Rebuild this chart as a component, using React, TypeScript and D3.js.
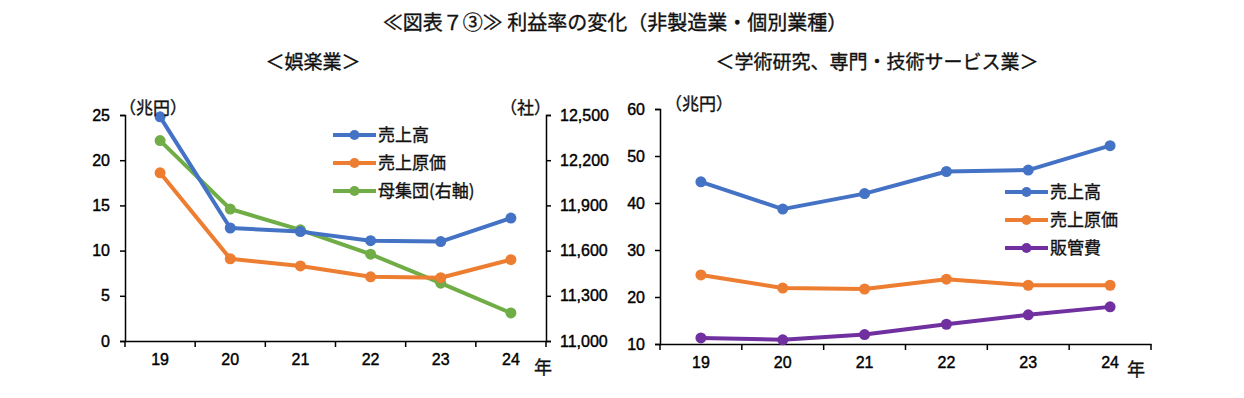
import * as d3 from 'd3';
import { useEffect, useRef } from 'react';

const years = ['19', '20', '21', '22', '23', '24'];

// 娯楽業 (兆円 / 社)
const goraku_uriage = [24.8, 12.5, 12.1, 11.1, 11.0, 13.6];
const goraku_genka = [18.6, 9.1, 8.3, 7.1, 7.0, 9.0];
const goraku_bosyudan = [12330, 11876, 11738, 11576, 11384, 11186];
const gorakuLeftTicks = [0, 5, 10, 15, 20, 25];
const gorakuRightTicks = [11000, 11300, 11600, 11900, 12200, 12500];

// 学術研究、専門・技術サービス業 (兆円)
const gakujutsu_uriage = [44.5, 38.7, 42.0, 46.7, 47.0, 52.2];
const gakujutsu_genka = [24.7, 21.9, 21.7, 23.8, 22.5, 22.5];
const gakujutsu_hankan = [11.3, 10.9, 12.0, 14.2, 16.2, 17.9];
const gakujutsuTicks = [10, 20, 30, 40, 50, 60];

const BLUE = '#4472c4';
const ORANGE = '#ed7d31';
const GREEN = '#70ad47';
const PURPLE = '#7030a0';
const JP = '"Noto Sans CJK JP", sans-serif';
const NUM = '"Liberation Sans", Arial, sans-serif';

function App() {
  const svgRef = useRef(null);

  useEffect(() => {
    document.body.style.margin = '0';
    const svg = d3.select(svgRef.current);
    svg.selectAll('*').remove();

    const jpText = (g, x, y, txt, size, anchor = 'start') =>
      g.append('text').attr('x', x).attr('y', y).attr('text-anchor', anchor)
        .style('font-family', JP).style('font-size', size + 'px').attr('fill', '#111')
        .attr('stroke', '#111').attr('stroke-width', 0.35).text(txt);

    jpText(svg, 615, 30, '≪図表７③≫ 利益率の変化（非製造業・個別業種）', 20, 'middle');
    jpText(svg, 313, 69, '＜娯楽業＞', 19, 'middle');
    jpText(svg, 877, 69, '＜学術研究、専門・技術サービス業＞', 19, 'middle');

    const drawSeries = (g, x, y, vals, color) => {
      const cx = (d, i) => x(years[i]) + x.bandwidth() / 2;
      const line = d3.line().x(cx).y(d => y(d));
      g.append('path').datum(vals).attr('fill', 'none').attr('stroke', color)
        .attr('stroke-width', 4).attr('stroke-linejoin', 'round').attr('d', line);
      g.selectAll(null).data(vals).enter().append('circle')
        .attr('cx', cx).attr('cy', d => y(d)).attr('r', 5.5).attr('fill', color);
    };

    const styleAxis = (ag) => {
      ag.selectAll('path,line').attr('stroke', '#000').attr('stroke-width', 1.5);
      ag.selectAll('text').style('font-family', NUM).style('font-size', '16px')
        .attr('fill', '#000').attr('stroke', '#000').attr('stroke-width', 0.4);
    };

    const bottomAxis = (g, x, y0, pad) => {
      const ax = g.append('g').attr('transform', `translate(0,${y0})`)
        .call(d3.axisBottom(x).tickSize(0).tickPadding(pad));
      ax.selectAll('.tick text').attr('dy', '0.71em');
      ax.selectAll(null).data(d3.range(years.length + 1)).enter().append('line')
        .attr('x1', i => x.range()[0] + i * x.step()).attr('x2', i => x.range()[0] + i * x.step())
        .attr('y1', 0).attr('y2', 6);
      styleAxis(ax);
    };

    const legend = (g, x0, y0, items) => {
      items.forEach((it, i) => {
        const yy = y0 + i * 28;
        g.append('line').attr('x1', x0).attr('x2', x0 + 43).attr('y1', yy).attr('y2', yy)
          .attr('stroke', it.color).attr('stroke-width', 4);
        g.append('circle').attr('cx', x0 + 21.5).attr('cy', yy).attr('r', 5).attr('fill', it.color);
        jpText(g, x0 + 45, yy + 6, it.label, 17);
      });
    };

    // ---- left chart
    const L = { left: 125, right: 546, top: 115, bottom: 341 };
    const xL = d3.scaleBand().domain(years).range([L.left, L.right]);
    const yL = d3.scaleLinear().domain([0, 25]).range([L.bottom, L.top]);
    const yR = d3.scaleLinear().domain([11000, 12500]).range([L.bottom, L.top]);
    const gl = svg.append('g');

    bottomAxis(gl, xL, L.bottom, 13);
    styleAxis(gl.append('g').attr('transform', `translate(${L.left},0)`)
      .call(d3.axisLeft(yL).tickValues(gorakuLeftTicks).tickSizeOuter(0).tickSize(5).tickPadding(10)));
    styleAxis(gl.append('g').attr('transform', `translate(${L.right},0)`)
      .call(d3.axisRight(yR).tickValues(gorakuRightTicks).tickFormat(d3.format(',')).tickSizeOuter(0).tickSize(5).tickPadding(9)));

    drawSeries(gl, xL, yR, goraku_bosyudan, GREEN);
    drawSeries(gl, xL, yL, goraku_genka, ORANGE);
    drawSeries(gl, xL, yL, goraku_uriage, BLUE);

    jpText(gl, 119, 114, '（兆円）', 17);
    jpText(gl, 500, 114, '（社）', 17);
    jpText(gl, 534, 374, '年', 18);
    legend(gl, 333, 135, [
      { label: '売上高', color: BLUE },
      { label: '売上原価', color: ORANGE },
      { label: '母集団(右軸)', color: GREEN },
    ]);

    // ---- right chart
    const R = { left: 660, right: 1151, top: 109, bottom: 344 };
    const xR = d3.scaleBand().domain(years).range([R.left, R.right]);
    const yG = d3.scaleLinear().domain([10, 60]).range([R.bottom, R.top]);
    const gr = svg.append('g');

    bottomAxis(gr, xR, R.bottom, 13);
    styleAxis(gr.append('g').attr('transform', `translate(${R.left},0)`)
      .call(d3.axisLeft(yG).tickValues(gakujutsuTicks).tickSizeOuter(0).tickSize(5).tickPadding(10)));

    drawSeries(gr, xR, yG, gakujutsu_hankan, PURPLE);
    drawSeries(gr, xR, yG, gakujutsu_genka, ORANGE);
    drawSeries(gr, xR, yG, gakujutsu_uriage, BLUE);

    jpText(gr, 665, 110, '（兆円）', 17);
    jpText(gr, 1127, 376, '年', 18);
    legend(gr, 1005, 192, [
      { label: '売上高', color: BLUE },
      { label: '売上原価', color: ORANGE },
      { label: '販管費', color: PURPLE },
    ]);
  }, []);

  return <svg ref={svgRef} width={1244} height={398} style={{ display: 'block', background: '#fff' }} />;
}

export default App;
